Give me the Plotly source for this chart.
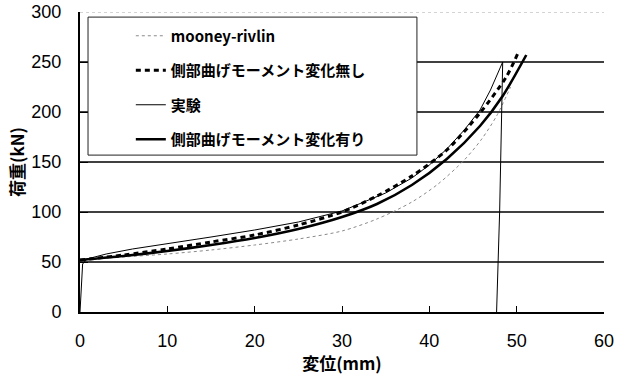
import plotly.graph_objects as go

# Load–displacement curves (displacement in mm, load in kN)
mooney_x = [0, 5, 10, 15, 20, 25, 30, 34, 38, 41, 44, 46, 47.7, 49.3]
mooney_y = [52, 55, 58, 62, 67, 73, 81, 93, 110, 128, 152, 173, 196, 225]

no_change_x = [0, 5, 10, 15, 20, 25, 30, 34, 38, 42, 45.8, 48.8, 50.1]
no_change_y = [52, 57, 63, 70, 77, 87, 100, 116, 136, 162, 199, 235, 258]

test_x = [0, 0.15, 0.3, 0.8, 3, 6, 10, 15, 20, 25, 30, 35, 38, 40, 42, 44, 45.8, 47, 48.4, 48.05, 47.7]
test_y = [0, 30, 48, 53, 58, 63, 68, 75, 82, 90, 101, 119, 134, 147, 163, 182, 202, 222, 250, 100, 0]

with_change_x = [0, 5, 10, 15, 20, 25, 30, 34, 38, 42, 45.8, 48.4, 51.1]
with_change_y = [52, 56, 61, 67, 74, 83, 95, 108, 127, 153, 186, 216, 257]

x_ticks = [0, 10, 20, 30, 40, 50, 60]
y_ticks = [0, 50, 100, 150, 200, 250, 300]

names = ["mooney-rivlin", "側部曲げモーメント変化無し", "実験", "側部曲げモーメント変化有り"]

LATIN = "Liberation Sans, Arial, sans-serif"
CJK = "Noto Sans CJK JP, Liberation Sans, sans-serif"

fig = go.Figure()
fig.add_trace(go.Scatter(x=mooney_x, y=mooney_y, mode="lines", name=names[0], legendgroup="a",
                         line=dict(color="#8a8a8a", width=1, dash="dot", shape="spline", smoothing=0.8)))
fig.add_trace(go.Scatter(x=no_change_x, y=no_change_y, mode="lines", name=names[1], legendgroup="b",
                         line=dict(color="black", width=3, dash="5px,4px", shape="spline", smoothing=0.8)))
fig.add_trace(go.Scatter(x=test_x, y=test_y, mode="lines", name=names[2], legendgroup="c",
                         line=dict(color="black", width=1)))
fig.add_trace(go.Scatter(x=with_change_x, y=with_change_y, mode="lines", name=names[3], legendgroup="d",
                         line=dict(color="black", width=2.6, shape="spline", smoothing=0.8)))

shapes = []
# horizontal grid lines at the inner y ticks
for v in y_ticks[1:-1]:
    shapes.append(dict(type="line", xref="paper", yref="y", x0=0, x1=1, y0=v, y1=v,
                       line=dict(color="black", width=1.5), layer="below"))
# faint dotted top frame
shapes.append(dict(type="line", xref="paper", yref="y", x0=0, x1=1, y0=y_ticks[-1], y1=y_ticks[-1],
                   line=dict(color="#aaa", width=1, dash="dot"), layer="below"))
# legend frame
shapes.append(dict(type="rect", xref="paper", yref="paper", x0=0.0153, x1=0.643, y0=0.523, y1=0.983,
                   fillcolor="white", line=dict(color="#222", width=1), layer="above"))

fig.update_layout(
    width=629, height=375,
    margin=dict(l=80, r=25, t=12, b=63),
    paper_bgcolor="white", plot_bgcolor="white",
    shapes=shapes,
    showlegend=True,
    legend=dict(x=0.097, y=0.975, xanchor="left", yanchor="top",
                bgcolor="rgba(0,0,0,0)", borderwidth=0,
                font=dict(family=CJK, size=15, color="black", weight="bold"),
                tracegroupgap=12, itemwidth=30),
    xaxis=dict(range=[0, 60], tickvals=x_ticks, ticks="inside", ticklen=6, tickwidth=1.2,
               tickcolor="black", showline=True, linecolor="black", linewidth=2,
               showgrid=False, zeroline=False, ticklabelstandoff=11, automargin=False,
               tickfont=dict(family=LATIN, size=18, color="black"),
               title=dict(text="変位(mm)", standoff=4,
                          font=dict(family=CJK, size=17, color="black", weight="bold"))),
    yaxis=dict(range=[0, 300], tickvals=y_ticks, ticks="inside", ticklen=8, tickwidth=1.2,
               tickcolor="black", showline=True, linecolor="black", linewidth=2,
               showgrid=False, zeroline=False, ticklabelstandoff=13, automargin=False,
               tickfont=dict(family=LATIN, size=18, color="black"),
               title=dict(text="荷重(kN)", standoff=2,
                          font=dict(family=CJK, size=17, color="black", weight="bold"))),
)

fig.write_html("out.html")
